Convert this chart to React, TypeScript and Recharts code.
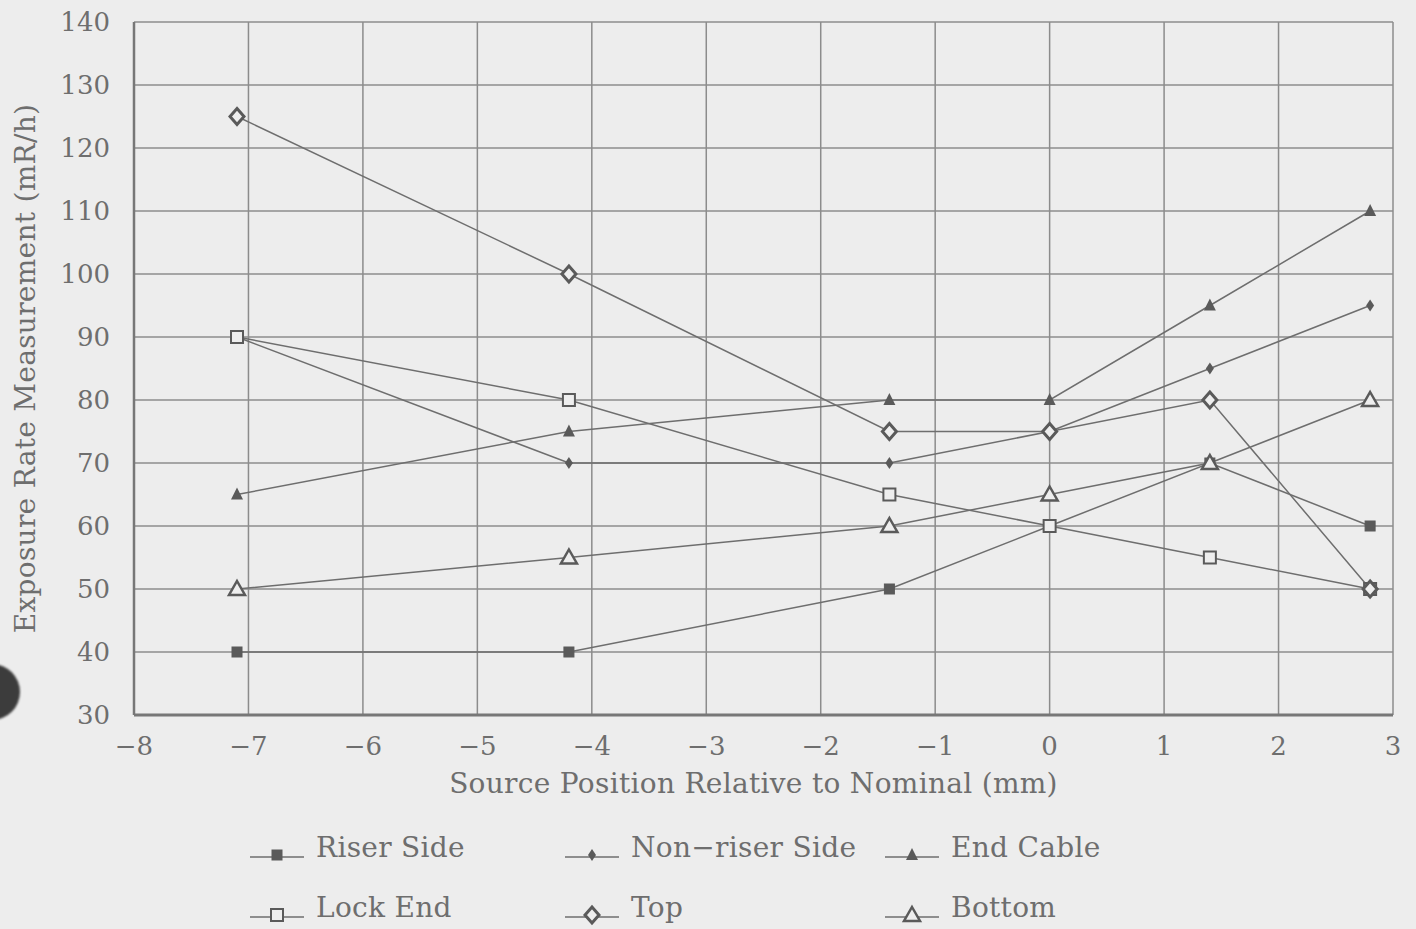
import React from "react";
import { LineChart, Line, XAxis, YAxis, CartesianGrid } from "recharts";

// Source positions (mm) relative to nominal, shared by every series
const xPositions = [-7.1, -4.2, -1.4, 0, 1.4, 2.8];

// Exposure rate readings (mR/h) at each source position
const riserSide = [40, 40, 50, 60, 70, 60];
const nonRiserSide = [90, 70, 70, 75, 85, 95];
const endCable = [65, 75, 80, 80, 95, 110];
const lockEnd = [90, 80, 65, 60, 55, 50];
const topSide = [125, 100, 75, 75, 80, 50];
const bottomSide = [50, 55, 60, 65, 70, 80];

const xTicks = [-8, -7, -6, -5, -4, -3, -2, -1, 0, 1, 2, 3];
const yTicks = [30, 40, 50, 60, 70, 80, 90, 100, 110, 120, 130, 140];

const data = xPositions.map((x, i) => ({
  x,
  riser: riserSide[i],
  nonRiser: nonRiserSide[i],
  endCable: endCable[i],
  lockEnd: lockEnd[i],
  top: topSide[i],
  bottom: bottomSide[i],
}));

const INK = "#6e6e6e";
const GRID = "#8c8c8c";
const FONT = "'DejaVu Serif', serif";

type MarkerKind = "filledSquare" | "smallDiamond" | "filledTriangle" | "openSquare" | "openDiamond" | "openTriangle";

function Marker({ kind, cx, cy }: { kind: MarkerKind; cx: number; cy: number }) {
  switch (kind) {
    case "filledSquare":
      return <rect x={cx - 5} y={cy - 5} width={10} height={10} fill="#5a5a5a" stroke="#5a5a5a" />;
    case "smallDiamond":
      return <polygon points={`${cx},${cy - 6} ${cx + 4},${cy} ${cx},${cy + 6} ${cx - 4},${cy}`} fill="#5a5a5a" />;
    case "filledTriangle":
      return <polygon points={`${cx},${cy - 7} ${cx + 6},${cy + 5} ${cx - 6},${cy + 5}`} fill="#5a5a5a" />;
    case "openSquare":
      return <rect x={cx - 6} y={cy - 6} width={12} height={12} fill="#eeeeee" stroke="#5a5a5a" strokeWidth={2} />;
    case "openDiamond":
      return (
        <polygon
          points={`${cx},${cy - 8} ${cx + 7},${cy} ${cx},${cy + 8} ${cx - 7},${cy}`}
          fill="#eeeeee"
          stroke="#5a5a5a"
          strokeWidth={3}
        />
      );
    case "openTriangle":
      return (
        <polygon
          points={`${cx},${cy - 8} ${cx + 8},${cy + 6} ${cx - 8},${cy + 6}`}
          fill="#eeeeee"
          stroke="#5a5a5a"
          strokeWidth={2.5}
        />
      );
  }
}

const series: { key: string; name: string; kind: MarkerKind }[] = [
  { key: "riser", name: "Riser Side", kind: "filledSquare" },
  { key: "nonRiser", name: "Non\u2212riser Side", kind: "smallDiamond" },
  { key: "endCable", name: "End Cable", kind: "filledTriangle" },
  { key: "lockEnd", name: "Lock End", kind: "openSquare" },
  { key: "top", name: "Top", kind: "openDiamond" },
  { key: "bottom", name: "Bottom", kind: "openTriangle" },
];

const legendSlots = [
  { left: 248, top: 820 },
  { left: 563, top: 820 },
  { left: 883, top: 820 },
  { left: 248, top: 880 },
  { left: 563, top: 880 },
  { left: 883, top: 880 },
];

const fmt = (v: number) => (v < 0 ? `\u2212${Math.abs(v)}` : `${v}`);

function LegendItem({ name, kind, left, top }: { name: string; kind: MarkerKind; left: number; top: number }) {
  return (
    <div style={{ position: "absolute", left, top, height: 54, display: "flex", alignItems: "center" }}>
      <svg width={60} height={54} style={{ overflow: "visible" }}>
        <line x1={2} y1={37} x2={56} y2={37} stroke={INK} strokeWidth={1.5} />
        <Marker kind={kind} cx={29} cy={35} />
      </svg>
      <span
        style={{
          fontFamily: FONT,
          fontSize: 28,
          color: INK,
          marginLeft: 8,
          whiteSpace: "nowrap",
          letterSpacing: 0.3,
        }}
      >
        {name}
      </span>
    </div>
  );
}

export default function App() {
  return (
    <div
      style={{
        position: "absolute",
        left: 0,
        top: 0,
        width: 1416,
        height: 929,
        background: "#ededed",
        overflow: "hidden",
      }}
    >
      <LineChart
        width={1416}
        height={929}
        data={data}
        margin={{ top: 22, right: 23, bottom: 114, left: 0 }}
      >
        <CartesianGrid stroke={GRID} strokeWidth={1.5} />
        <XAxis
          dataKey="x"
          type="number"
          domain={[-8, 3]}
          ticks={xTicks}
          tickFormatter={fmt}
          tickLine={false}
          tickSize={0}
          tickMargin={22}
          height={100}
          axisLine={{ stroke: "#777", strokeWidth: 3 }}
          tick={{ fill: INK, fontSize: 26, fontFamily: FONT }}
          allowDataOverflow
          label={{
            value: "Source Position Relative to Nominal (mm)",
            position: "insideTop",
            offset: 58,
            dx: -10,
            fill: INK,
            fontSize: 28,
            fontFamily: FONT,
            letterSpacing: 0.3,
          }}
        />
        <XAxis
          xAxisId="frame"
          orientation="top"
          type="number"
          domain={[-8, 3]}
          tick={false}
          tickLine={false}
          height={0}
          axisLine={{ stroke: "#777", strokeWidth: 3 }}
        />
        <YAxis
          type="number"
          domain={[30, 140]}
          ticks={yTicks}
          tickLine={false}
          tickSize={0}
          tickMargin={24}
          width={134}
          axisLine={{ stroke: "#777", strokeWidth: 2.5 }}
          tick={{ fill: INK, fontSize: 26, fontFamily: FONT }}
          label={{
            value: "Exposure Rate Measurement (mR/h)",
            angle: -90,
            position: "insideLeft",
            offset: 25,
            style: { textAnchor: "middle" },
            fill: INK,
            fontSize: 28,
            fontFamily: FONT,
            letterSpacing: 0.3,
          }}
        />
        <YAxis
          yAxisId="frame"
          orientation="right"
          type="number"
          domain={[30, 140]}
          tick={false}
          tickLine={false}
          width={0}
          axisLine={{ stroke: "#777", strokeWidth: 2 }}
        />
        {series.map((s) => (
          <Line
            key={s.key}
            dataKey={s.key}
            name={s.name}
            type="linear"
            stroke={INK}
            strokeWidth={1.5}
            isAnimationActive={false}
            dot={(p: any) => <Marker key={`${s.key}-${p.index}`} kind={s.kind} cx={p.cx} cy={p.cy} />}
            activeDot={false}
          />
        ))}
      </LineChart>
      {series.map((s, i) => (
        <LegendItem key={s.key} name={s.name} kind={s.kind} left={legendSlots[i].left} top={legendSlots[i].top} />
      ))}
      <div
        style={{
          position: "absolute",
          left: -36,
          top: 664,
          width: 56,
          height: 56,
          borderRadius: "50%",
          background: "#3c3c3c",
          filter: "blur(1px)",
        }}
      />
    </div>
  );
}
